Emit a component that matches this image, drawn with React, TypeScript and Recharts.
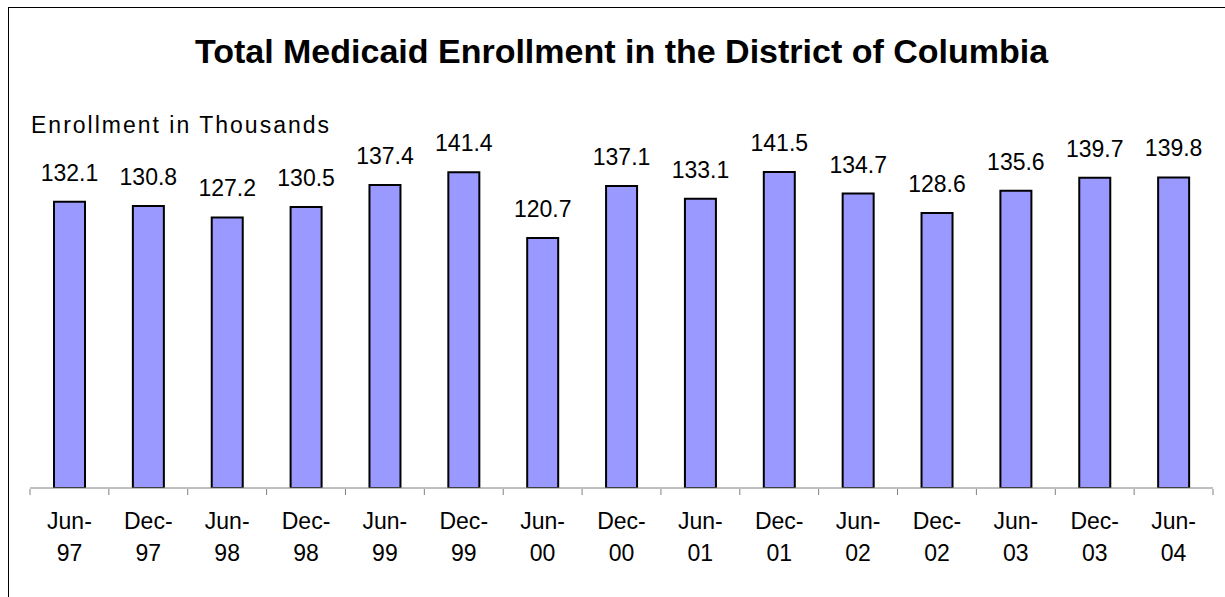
import React from "react";
import { BarChart, Bar, XAxis, YAxis, LabelList } from "recharts";

const periods = [
  "Jun-97", "Dec-97", "Jun-98", "Dec-98", "Jun-99", "Dec-99", "Jun-00", "Dec-00",
  "Jun-01", "Dec-01", "Jun-02", "Dec-02", "Jun-03", "Dec-03", "Jun-04"
];
const enrollment = [
  132.1, 130.8, 127.2, 130.5, 137.4, 141.4, 120.7, 137.1,
  133.1, 141.5, 134.7, 128.6, 135.6, 139.7, 139.8
];

const data = periods.map((period, i) => ({ period, slot: i, enrollment: enrollment[i] }));
// category boundaries for the between-bar tick marks
const edgeTicks = [...periods.map((_, i) => i), periods.length];

const FONT = "Arial, 'Liberation Sans', sans-serif";

function PeriodTick({ x, y, payload }: any) {
  const [mon, yr] = String(payload.value).split("-");
  return (
    <text x={x} y={y} textAnchor="middle" fontFamily={FONT} fontSize={23} fill="#000">
      <tspan x={x} dy={41}>{mon}-</tspan>
      <tspan x={x} dy={32}>{yr}</tspan>
    </text>
  );
}

const NoLabel = () => <g />;

export default function App() {
  return (
    <div style={{ position: "fixed", left: 0, top: 0, width: 1225, height: 597, overflow: "hidden", background: "#fff" }}>
      <div style={{ position: "absolute", left: 8, top: 7, width: 1400, height: 800, border: "1px solid #000" }} />
      <div
        style={{
          position: "absolute", left: 0, top: 31, width: 1243, textAlign: "center",
          fontFamily: FONT, fontWeight: "bold", fontSize: 34, color: "#000", lineHeight: "40px"
        }}
      >
        Total Medicaid Enrollment in the District of Columbia
      </div>
      <div
        style={{
          position: "absolute", left: 31, top: 111, fontFamily: FONT, fontSize: 23,
          letterSpacing: 2, color: "#000", lineHeight: "28px", whiteSpace: "nowrap"
        }}
      >
        Enrollment in Thousands
      </div>
      <div style={{ position: "absolute", left: 0, top: 0 }}>
        <BarChart
          width={1225}
          height={597}
          data={data}
          margin={{ top: 145, right: 12, bottom: 107, left: 30 }}
        >
          <YAxis hide domain={[42, 150]} allowDataOverflow />
          <XAxis
            dataKey="period"
            interval={0}
            axisLine={{ stroke: "#808080", strokeWidth: 1 }}
            tickLine={false}
            tickSize={0}
            tickMargin={0}
            tick={<PeriodTick />}
            height={1}
          />
          <XAxis
            xAxisId="edge"
            dataKey="slot"
            type="number"
            domain={[0, periods.length]}
            ticks={edgeTicks}
            interval={0}
            tick={<NoLabel />}
            axisLine={false}
            tickLine={{ stroke: "#808080", strokeWidth: 1 }}
            tickSize={6}
            height={1}
          />
          <Bar
            dataKey="enrollment"
            fill="#9999FF"
            stroke="#000"
            strokeWidth={2}
            barSize={31}
            isAnimationActive={false}
          >
            <LabelList
              dataKey="enrollment"
              position="top"
              offset={21}
              fontFamily={FONT}
              fontSize={23}
              fill="#000"
              formatter={(v: any) => Number(v).toFixed(1)}
            />
          </Bar>
        </BarChart>
      </div>
    </div>
  );
}
